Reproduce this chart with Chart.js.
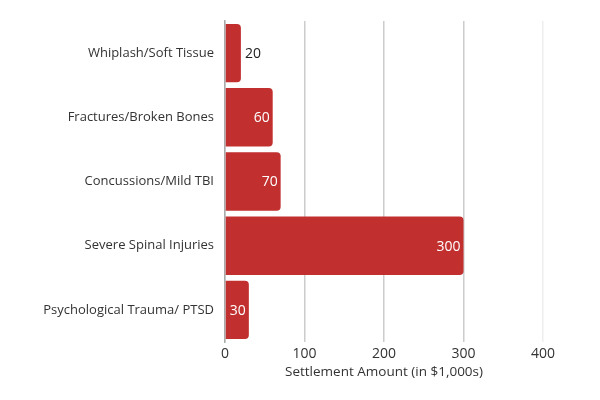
<!DOCTYPE html>
<html>
<head>
<meta charset="utf-8">
<script src="https://cdn.jsdelivr.net/npm/chart.js@4/dist/chart.umd.min.js"></script>
<style>
  html, body { margin: 0; padding: 0; background: #fff; }
  #wrap { width: 600px; height: 400px; }
</style>
</head>
<body>
<div id="wrap"><canvas id="injuryChart"></canvas></div>
<script>
var categories = ['Whiplash/Soft Tissue', 'Fractures/Broken Bones', 'Concussions/Mild TBI', 'Severe Spinal Injuries', 'Psychological Trauma/ PTSD'];
var settlements = [20, 60, 70, 300, 30];
var xTicks = [0, 100, 200, 300, 400];

var barRed = '#c1302f';

// value labels: inside the bar end (white), outside when the bar is too short
var valueLabels = {
  id: 'valueLabels',
  afterDatasetsDraw: function (chart) {
    var ctx = chart.ctx;
    var meta = chart.getDatasetMeta(0);
    ctx.save();
    ctx.font = '14px "Open Sans"';
    ctx.textBaseline = 'middle';
    meta.data.forEach(function (bar, i) {
      var txt = String(settlements[i]);
      var w = ctx.measureText(txt).width;
      var len = bar.x - bar.base;
      if (len > w + 5) {
        ctx.fillStyle = '#ffffff';
        ctx.textAlign = 'right';
        ctx.fillText(txt, bar.x - 3, bar.y + 1);
      } else {
        ctx.fillStyle = '#222222';
        ctx.textAlign = 'left';
        ctx.fillText(txt, bar.x + 4, bar.y + 1);
      }
    });
    ctx.restore();
  }
};

var ctx = document.getElementById('injuryChart').getContext('2d');
var injuryChart = new Chart(ctx, {
  type: 'bar',
  data: {
    labels: categories,
    datasets: [{
      label: 'Settlement',
      data: settlements,
      backgroundColor: barRed,
      borderRadius: 4,
      borderSkipped: 'start',
      barPercentage: 0.91,
      categoryPercentage: 1.0
    }]
  },
  options: {
    indexAxis: 'y',
    responsive: true,
    maintainAspectRatio: false,
    animation: false,
    layout: { padding: { top: 21, right: 57, bottom: 20, left: 0 } },
    plugins: {
      legend: { display: false },
      tooltip: { enabled: false }
    },
    scales: {
      x: {
        min: 0,
        max: 400,
        afterBuildTicks: function (scale) {
          scale.ticks = xTicks.map(function (v) { return { value: v }; });
        },
        grid: {
          color: function (c) { return c.tick && c.tick.value === 400 ? '#eeeeee' : '#cccccc'; },
          lineWidth: 1.5,
          drawTicks: false
        },
        border: { display: false },
        ticks: { color: '#333333', font: { family: 'Open Sans', size: 14 }, padding: 4 },
        title: {
          display: true,
          text: 'Settlement Amount (in $1,000s)',
          color: '#333333',
          font: { family: 'Open Sans', size: 13.5 },
          padding: { top: -3, bottom: 0 }
        }
      },
      y: {
        afterFit: function (scale) { scale.width = 225; },
        grid: { display: false, drawTicks: false },
        border: { display: true, color: '#aaaaaa', width: 1.5 },
        ticks: { color: '#333333', font: { family: 'Open Sans', size: 13 }, padding: 11 }
      }
    }
  },
  plugins: [valueLabels]
});
</script>
</body>
</html>
